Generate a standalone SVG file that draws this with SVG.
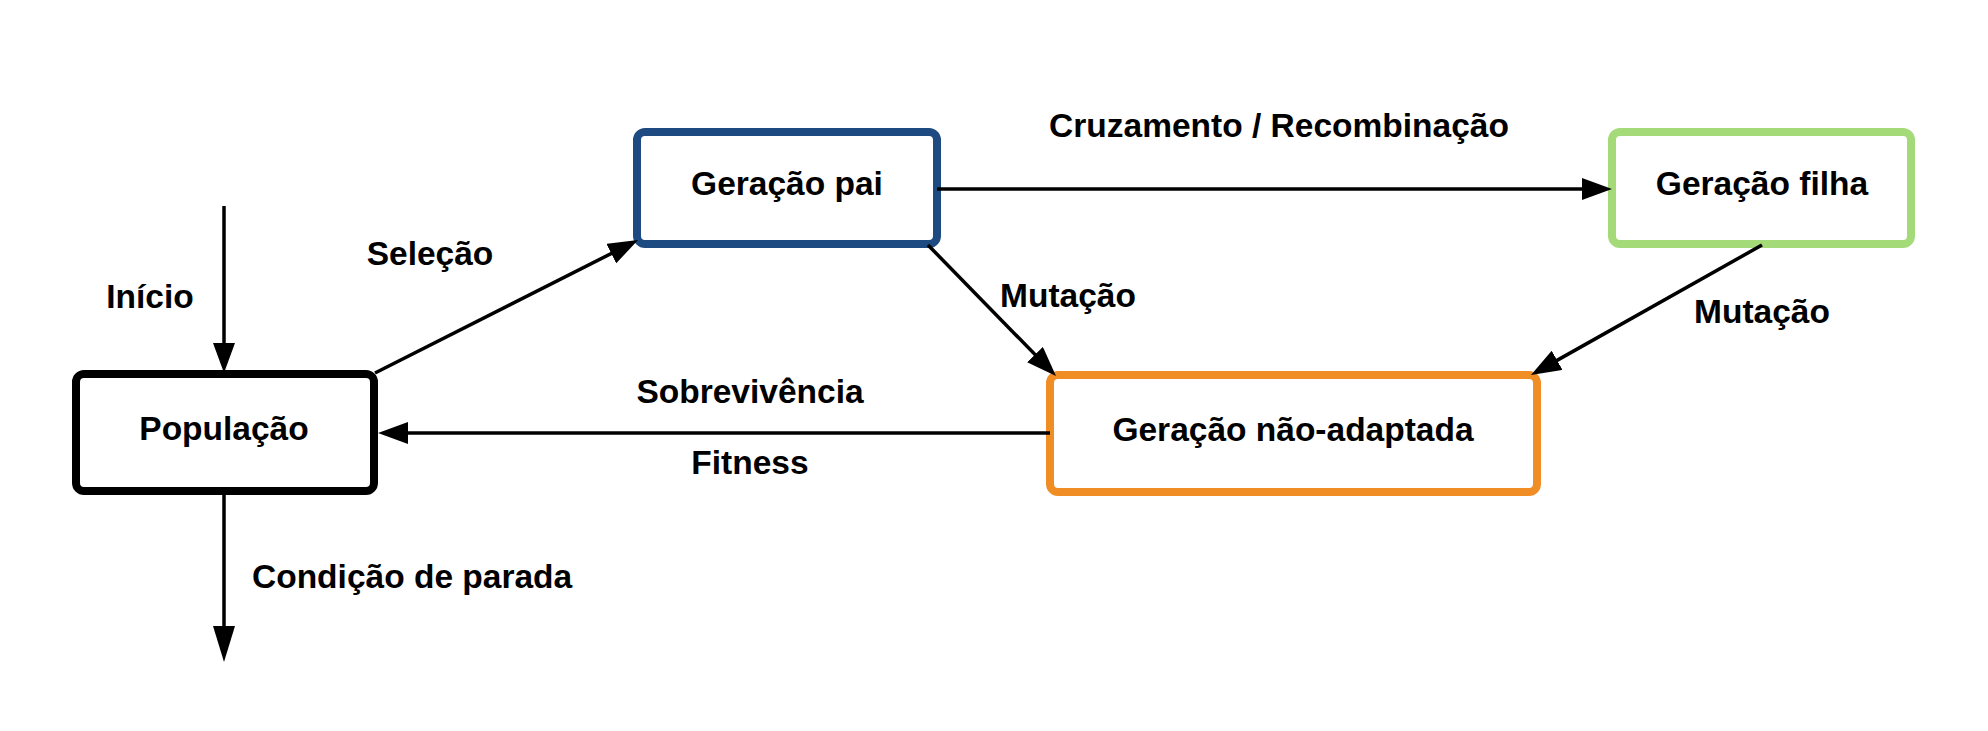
<svg xmlns="http://www.w3.org/2000/svg" width="1988" height="731" viewBox="0 0 1988 731">
<style>
.box{fill:#ffffff;stroke-width:8}
.t{font-family:"Liberation Sans",Arial,sans-serif;font-weight:bold;font-size:33.5px;fill:#000;text-anchor:middle}
.c{stroke:#000;stroke-width:3.5;fill:none}
</style>
<defs>
<marker id="ah" markerUnits="userSpaceOnUse" markerWidth="30" markerHeight="22" refX="20" refY="11" orient="auto" viewBox="0 0 30 22">
<path d="M0,0 L30,11 L0,22 Z" fill="#000"/>
</marker>
<marker id="ahl" markerUnits="userSpaceOnUse" markerWidth="36" markerHeight="22" refX="26" refY="11" orient="auto" viewBox="0 0 36 22">
<path d="M0,0 L36,11 L0,22 Z" fill="#000"/>
</marker>
</defs>
<rect width="1988" height="731" fill="#ffffff"/>
<g id="populacao">
<rect class="box" x="76" y="374" width="298" height="117" rx="8" stroke="#000000"/>
<text class="t" x="224" y="440">População</text>
</g>
<g id="geracao-pai">
<rect class="box" x="637" y="132" width="300" height="112" rx="8" stroke="#1d4a80"/>
<text class="t" x="787" y="195">Geração pai</text>
</g>
<g id="geracao-filha">
<rect class="box" x="1612" y="132" width="299" height="112" rx="8" stroke="#a5da78"/>
<text class="t" x="1762" y="195">Geração filha</text>
</g>
<g id="geracao-nao-adaptada">
<rect class="box" x="1050" y="375" width="487" height="117" rx="8" stroke="#f08d24"/>
<text class="t" x="1293" y="441">Geração não-adaptada</text>
</g>
<g id="connectors">
<line class="c" x1="224" y1="206" x2="224" y2="363" marker-end="url(#ah)"/>
<line class="c" x1="375" y1="373" x2="629.1" y2="244.5" marker-end="url(#ah)"/>
<line class="c" x1="937" y1="189" x2="1602" y2="189" marker-end="url(#ah)"/>
<line class="c" x1="928" y1="245" x2="1049" y2="368.9" marker-end="url(#ah)"/>
<line class="c" x1="1762" y1="245" x2="1539.7" y2="370.1" marker-end="url(#ah)"/>
<line class="c" x1="1050" y1="433" x2="388" y2="433" marker-end="url(#ah)"/>
<line class="c" x1="224" y1="495" x2="224" y2="652" marker-end="url(#ahl)"/>
</g>
<g id="labels">
<text class="t" x="150" y="308">Início</text>
<text class="t" x="430" y="265">Seleção</text>
<text class="t" x="1279" y="137">Cruzamento / Recombinação</text>
<text class="t" x="1068" y="307">Mutação</text>
<text class="t" x="1762" y="323">Mutação</text>
<text class="t" x="750" y="403">Sobrevivência</text>
<text class="t" x="750" y="474">Fitness</text>
<text class="t" x="252" y="588" style="text-anchor:start">Condição de parada</text>
</g>
</svg>
